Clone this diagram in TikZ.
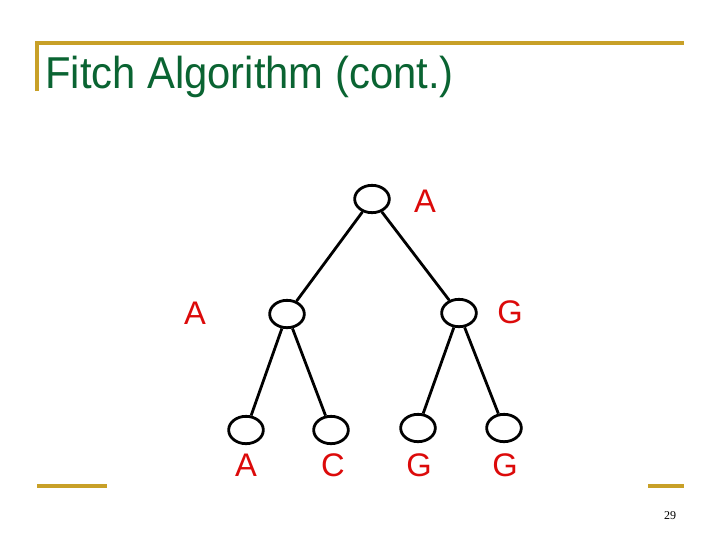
\documentclass[tikz,border=0pt]{standalone}
\usepackage{fontspec}
\usetikzlibrary{shapes.geometric}
\setmainfont{Liberation Sans}
\newfontfamily\serifnum{Liberation Serif}
\definecolor{gold}{RGB}{200,160,40}
\definecolor{titlegreen}{RGB}{10,100,50}
\definecolor{labred}{RGB}{220,10,10}
\begin{document}
\begin{tikzpicture}[x=0.75pt,y=-0.75pt,
  tnode/.style={draw=black,line width=2.1pt,ellipse,minimum width=26pt,minimum height=20.5pt,inner sep=0pt,fill=white},
  lab/.style={text=labred,font=\fontsize{24.5}{24.5}\selectfont,inner sep=0pt},
  edge/.style={line width=2.1pt,black},
  goldline/.style={gold,line width=2.4pt}]
\useasboundingbox[fill=white] (0,0) rectangle (720,540);
\draw[goldline] (37,91) -- (37,43) -- (684,43);
\draw[goldline] (37,486) -- (107,486);
\draw[goldline] (648,486) -- (684,486);
\node[anchor=base west,text=titlegreen,font=\fontsize{33.5}{33.5}\selectfont,inner sep=0pt] (title) at (45,88) {\scalebox{0.935}[1]{Fitch Algorithm (cont.)}};
\node[tnode] (r) at (372,199) {};
\node[tnode] (l) at (287,314) {};
\node[tnode] (m) at (459,313) {};
\node[tnode] (l1) at (246,430) {};
\node[tnode] (l2) at (331,430) {};
\node[tnode] (l3) at (418,428) {};
\node[tnode] (l4) at (504,428) {};
\draw[edge] (r) -- (l);
\draw[edge] (r) -- (m);
\draw[edge] (l) -- (l1);
\draw[edge] (l) -- (l2);
\draw[edge] (m) -- (l3);
\draw[edge] (m) -- (l4);
\node[lab] (tr) at (425,201) {A};
\node[lab] (tl) at (195,313) {A};
\node[lab] (tm) at (510,312) {G};
\node[lab] (t1) at (246,465) {A};
\node[lab] (t2) at (333,465) {C};
\node[lab] (t3) at (419,465) {G};
\node[lab] (t4) at (505,465) {G};
\node[font=\serifnum\fontsize{9}{9}\selectfont,inner sep=0pt] (pg) at (670,516) {29};
\end{tikzpicture}
\end{document}
